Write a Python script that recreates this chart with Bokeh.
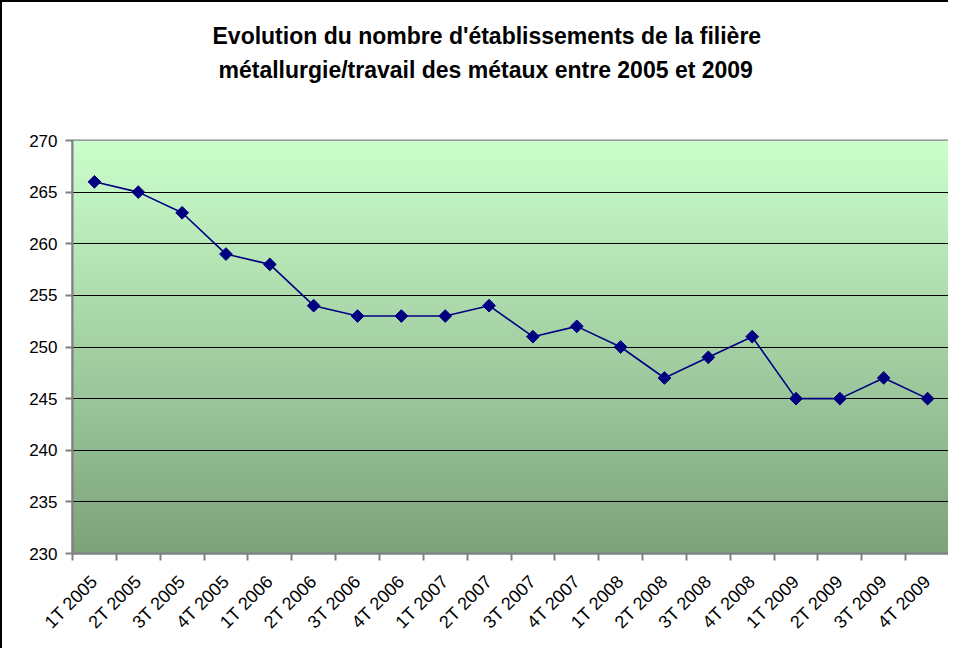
import numpy as np
from bokeh.plotting import figure
from bokeh.models import FixedTicker, Range1d, Title
from bokeh.embed import file_html
from bokeh.resources import INLINE

quarters = ["1T 2005", "2T 2005", "3T 2005", "4T 2005",
            "1T 2006", "2T 2006", "3T 2006", "4T 2006",
            "1T 2007", "2T 2007", "3T 2007", "4T 2007",
            "1T 2008", "2T 2008", "3T 2008", "4T 2008",
            "1T 2009", "2T 2009", "3T 2009", "4T 2009"]
establishments = [266, 265, 263, 259, 258, 254, 253, 253, 253, 254,
                  251, 252, 250, 247, 249, 251, 245, 245, 247, 245]
y_ticks = [230, 235, 240, 245, 250, 255, 260, 265, 270]
title_lines = ["Evolution du nombre d'établissements de la filière",
               "métallurgie/travail des métaux entre 2005 et 2009"]

n = len(quarters)
xs = list(range(1, n + 1))
y_min, y_max = y_ticks[0], y_ticks[-1]

FONT = "Liberation Sans"

p = figure(width=948, height=648, output_backend="svg", toolbar_location=None,
           x_range=Range1d(0.5, n + 0.5), y_range=Range1d(y_min, y_max),
           min_border_left=70, min_border_right=1, min_border_top=138,
           min_border_bottom=97, background_fill_color="white",
           border_fill_color="white")
p.styles = {"border-left": "2px solid black", "border-top": "2px solid black"}
p.title.visible = False

# spacer between title and plot area
p.add_layout(Title(text=" ", text_font_size="1px", standoff=55), "above")
# title (two lines)
p.add_layout(Title(text=title_lines[1], align="left", text_font=FONT,
                   text_font_size="23px", text_font_style="bold",
                   text_color="black", offset=146, standoff=0), "above")
p.add_layout(Title(text=title_lines[0], align="left", text_font=FONT,
                   text_font_size="23px", text_font_style="bold",
                   text_color="black", offset=140, standoff=11), "above")

# gradient background
rows = 256
t = np.linspace(0, 1, rows)  # bottom -> top
top = np.array([204, 255, 204])
bot = np.array([125, 163, 125])
cols = (bot[None, :] * (1 - t[:, None]) + top[None, :] * t[:, None]).astype(np.uint32)
img = np.empty((rows, 1), dtype=np.uint32)
view = img.view(dtype=np.uint8).reshape((rows, 1, 4))
view[:, 0, 0] = cols[:, 0]
view[:, 0, 1] = cols[:, 1]
view[:, 0, 2] = cols[:, 2]
view[:, 0, 3] = 255
p.image_rgba(image=[img], x=0.5, y=y_min, dw=n, dh=y_max - y_min, level="image")

# grid
p.xgrid.visible = False
p.ygrid.ticker = FixedTicker(ticks=y_ticks)
p.ygrid.grid_line_color = "black"
p.ygrid.grid_line_width = 1
p.ygrid.level = "underlay"
p.outline_line_color = "#808080"
p.outline_line_width = 2

# data
p.line(xs, establishments, line_color="#000080", line_width=1.6)
p.scatter(xs, establishments, marker="square", size=9, angle=np.pi / 4,
          fill_color="#000080", line_color="#000080")

# y axis
yax = p.yaxis[0]
yax.ticker = FixedTicker(ticks=y_ticks)
yax.axis_line_color = "#808080"
yax.axis_line_width = 2
yax.major_tick_line_color = "#808080"
yax.major_tick_line_width = 2
yax.major_tick_out = 7
yax.major_tick_in = 0
yax.minor_tick_line_color = None
yax.major_label_text_font = FONT
yax.major_label_text_font_size = "17px"
yax.major_label_text_color = "black"
yax.major_label_standoff = 8

# x axis: labels at centres, ticks at boundaries
xax = p.xaxis[0]
xax.ticker = FixedTicker(ticks=xs, minor_ticks=[i + 0.5 for i in range(0, n + 1)])
xax.major_label_overrides = {x: q for x, q in zip(xs, quarters)}
xax.major_label_orientation = np.pi / 4
xax.major_tick_line_color = None
xax.minor_tick_line_color = "#808080"
xax.minor_tick_line_width = 2
xax.minor_tick_out = 7
xax.minor_tick_in = 0
xax.axis_line_color = "#808080"
xax.axis_line_width = 2
xax.major_label_text_font = FONT
xax.major_label_text_font_size = "18px"
xax.major_label_text_color = "black"
xax.major_label_standoff = 18

open("out.html", "w").write(file_html(p, INLINE))
